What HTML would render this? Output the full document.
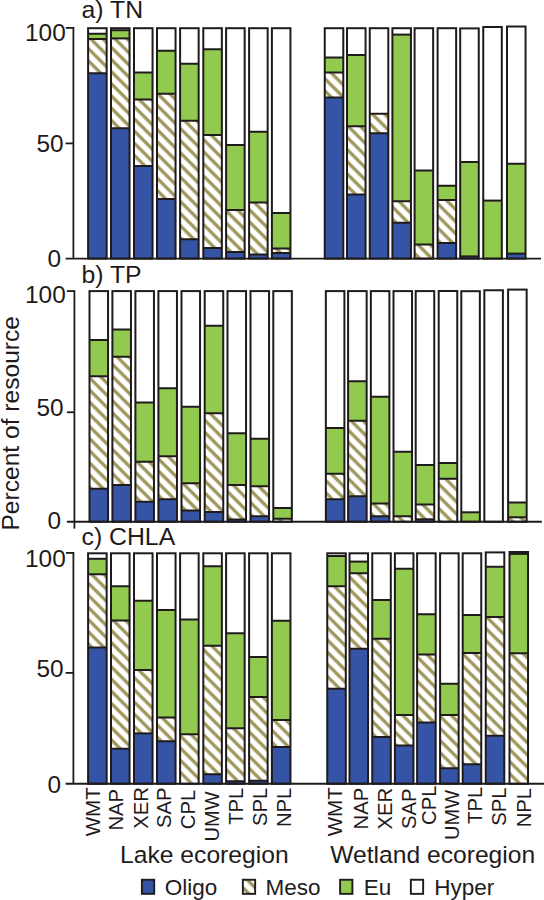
<!DOCTYPE html>
<html lang="en">
<head>
<meta charset="utf-8">
<title>Percent of resource by trophic state</title>
<style>
html,body{margin:0;padding:0;background:#fff;}
body{width:544px;height:900px;overflow:hidden;}
svg{display:block;}
text{font-family:"Liberation Sans",Arial,Helvetica,sans-serif;fill:#1f1b1c;}
</style>
</head>
<body>
<svg width="544" height="900" viewBox="0 0 544 900">
<defs>
<pattern id="h" patternUnits="userSpaceOnUse" width="8.59" height="8.59" patternTransform="rotate(-45)">
<rect x="0" y="0" width="8.59" height="8.59" fill="#ffffff"/>
<rect x="0.625" y="0" width="3.35" height="8.59" fill="#9f975d"/>
</pattern>
<pattern id="h2" patternUnits="userSpaceOnUse" width="8.59" height="8.59" patternTransform="rotate(-45)">
<rect x="0" y="0" width="8.59" height="8.59" fill="#ffffff"/>
<rect x="-2.295" y="0" width="3.35" height="8.59" fill="#9f975d"/>
<rect x="6.295" y="0" width="3.35" height="8.59" fill="#9f975d"/>
</pattern>
</defs>
<rect x="0" y="0" width="544" height="900" fill="#ffffff"/>
<g id="bars">
<g id="panel-a">
<rect x="88.10" y="33.75" width="18.55" height="5.25" fill="#92c94f"/>
<rect x="88.10" y="39.00" width="18.55" height="34.25" fill="url(#h)"/>
<rect x="88.10" y="73.25" width="18.55" height="185.35" fill="#3554a5"/>
<rect x="88.10" y="28.20" width="18.55" height="230.40" fill="none" stroke="#1f1b1c" stroke-width="2.0"/>
<line x1="88.10" x2="106.65" y1="33.75" y2="33.75" stroke="#1f1b1c" stroke-width="2.0"/>
<line x1="88.10" x2="106.65" y1="39.00" y2="39.00" stroke="#1f1b1c" stroke-width="2.0"/>
<line x1="88.10" x2="106.65" y1="73.25" y2="73.25" stroke="#1f1b1c" stroke-width="2.0"/>
<rect x="111.00" y="30.20" width="18.55" height="8.20" fill="#92c94f"/>
<rect x="111.00" y="38.40" width="18.55" height="89.85" fill="url(#h)"/>
<rect x="111.00" y="128.25" width="18.55" height="130.35" fill="#3554a5"/>
<rect x="111.00" y="28.20" width="18.55" height="230.40" fill="none" stroke="#1f1b1c" stroke-width="2.0"/>
<line x1="111.00" x2="129.55" y1="30.20" y2="30.20" stroke="#1f1b1c" stroke-width="2.0"/>
<line x1="111.00" x2="129.55" y1="38.40" y2="38.40" stroke="#1f1b1c" stroke-width="2.0"/>
<line x1="111.00" x2="129.55" y1="128.25" y2="128.25" stroke="#1f1b1c" stroke-width="2.0"/>
<rect x="134.00" y="72.50" width="18.55" height="27.00" fill="#92c94f"/>
<rect x="134.00" y="99.50" width="18.55" height="66.50" fill="url(#h)"/>
<rect x="134.00" y="166.00" width="18.55" height="92.60" fill="#3554a5"/>
<rect x="134.00" y="28.20" width="18.55" height="230.40" fill="none" stroke="#1f1b1c" stroke-width="2.0"/>
<line x1="134.00" x2="152.55" y1="72.50" y2="72.50" stroke="#1f1b1c" stroke-width="2.0"/>
<line x1="134.00" x2="152.55" y1="99.50" y2="99.50" stroke="#1f1b1c" stroke-width="2.0"/>
<line x1="134.00" x2="152.55" y1="166.00" y2="166.00" stroke="#1f1b1c" stroke-width="2.0"/>
<rect x="157.00" y="50.75" width="18.55" height="43.00" fill="#92c94f"/>
<rect x="157.00" y="93.75" width="18.55" height="105.25" fill="url(#h)"/>
<rect x="157.00" y="199.00" width="18.55" height="59.60" fill="#3554a5"/>
<rect x="157.00" y="28.20" width="18.55" height="230.40" fill="none" stroke="#1f1b1c" stroke-width="2.0"/>
<line x1="157.00" x2="175.55" y1="50.75" y2="50.75" stroke="#1f1b1c" stroke-width="2.0"/>
<line x1="157.00" x2="175.55" y1="93.75" y2="93.75" stroke="#1f1b1c" stroke-width="2.0"/>
<line x1="157.00" x2="175.55" y1="199.00" y2="199.00" stroke="#1f1b1c" stroke-width="2.0"/>
<rect x="180.10" y="63.75" width="18.55" height="57.00" fill="#92c94f"/>
<rect x="180.10" y="120.75" width="18.55" height="118.50" fill="url(#h)"/>
<rect x="180.10" y="239.25" width="18.55" height="19.35" fill="#3554a5"/>
<rect x="180.10" y="28.20" width="18.55" height="230.40" fill="none" stroke="#1f1b1c" stroke-width="2.0"/>
<line x1="180.10" x2="198.65" y1="63.75" y2="63.75" stroke="#1f1b1c" stroke-width="2.0"/>
<line x1="180.10" x2="198.65" y1="120.75" y2="120.75" stroke="#1f1b1c" stroke-width="2.0"/>
<line x1="180.10" x2="198.65" y1="239.25" y2="239.25" stroke="#1f1b1c" stroke-width="2.0"/>
<rect x="203.30" y="49.25" width="18.55" height="85.75" fill="#92c94f"/>
<rect x="203.30" y="135.00" width="18.55" height="113.00" fill="url(#h)"/>
<rect x="203.30" y="248.00" width="18.55" height="10.60" fill="#3554a5"/>
<rect x="203.30" y="28.20" width="18.55" height="230.40" fill="none" stroke="#1f1b1c" stroke-width="2.0"/>
<line x1="203.30" x2="221.85" y1="49.25" y2="49.25" stroke="#1f1b1c" stroke-width="2.0"/>
<line x1="203.30" x2="221.85" y1="135.00" y2="135.00" stroke="#1f1b1c" stroke-width="2.0"/>
<line x1="203.30" x2="221.85" y1="248.00" y2="248.00" stroke="#1f1b1c" stroke-width="2.0"/>
<rect x="226.10" y="145.00" width="18.55" height="65.00" fill="#92c94f"/>
<rect x="226.10" y="210.00" width="18.55" height="42.00" fill="url(#h)"/>
<rect x="226.10" y="252.00" width="18.55" height="6.60" fill="#3554a5"/>
<rect x="226.10" y="28.20" width="18.55" height="230.40" fill="none" stroke="#1f1b1c" stroke-width="2.0"/>
<line x1="226.10" x2="244.65" y1="145.00" y2="145.00" stroke="#1f1b1c" stroke-width="2.0"/>
<line x1="226.10" x2="244.65" y1="210.00" y2="210.00" stroke="#1f1b1c" stroke-width="2.0"/>
<line x1="226.10" x2="244.65" y1="252.00" y2="252.00" stroke="#1f1b1c" stroke-width="2.0"/>
<rect x="249.10" y="131.75" width="18.55" height="70.75" fill="#92c94f"/>
<rect x="249.10" y="202.50" width="18.55" height="52.00" fill="url(#h)"/>
<rect x="249.10" y="254.50" width="18.55" height="4.10" fill="#3554a5"/>
<rect x="249.10" y="28.20" width="18.55" height="230.40" fill="none" stroke="#1f1b1c" stroke-width="2.0"/>
<line x1="249.10" x2="267.65" y1="131.75" y2="131.75" stroke="#1f1b1c" stroke-width="2.0"/>
<line x1="249.10" x2="267.65" y1="202.50" y2="202.50" stroke="#1f1b1c" stroke-width="2.0"/>
<line x1="249.10" x2="267.65" y1="254.50" y2="254.50" stroke="#1f1b1c" stroke-width="2.0"/>
<rect x="271.90" y="213.00" width="18.55" height="35.50" fill="#92c94f"/>
<rect x="271.90" y="248.50" width="18.55" height="4.50" fill="url(#h)"/>
<rect x="271.90" y="253.00" width="18.55" height="5.60" fill="#3554a5"/>
<rect x="271.90" y="28.20" width="18.55" height="230.40" fill="none" stroke="#1f1b1c" stroke-width="2.0"/>
<line x1="271.90" x2="290.45" y1="213.00" y2="213.00" stroke="#1f1b1c" stroke-width="2.0"/>
<line x1="271.90" x2="290.45" y1="248.50" y2="248.50" stroke="#1f1b1c" stroke-width="2.0"/>
<line x1="271.90" x2="290.45" y1="253.00" y2="253.00" stroke="#1f1b1c" stroke-width="2.0"/>
<rect x="324.75" y="57.50" width="18.55" height="15.00" fill="#92c94f"/>
<rect x="324.75" y="72.50" width="18.55" height="25.00" fill="url(#h)"/>
<rect x="324.75" y="97.50" width="18.55" height="161.10" fill="#3554a5"/>
<rect x="324.75" y="28.20" width="18.55" height="230.40" fill="none" stroke="#1f1b1c" stroke-width="2.0"/>
<line x1="324.75" x2="343.30" y1="57.50" y2="57.50" stroke="#1f1b1c" stroke-width="2.0"/>
<line x1="324.75" x2="343.30" y1="72.50" y2="72.50" stroke="#1f1b1c" stroke-width="2.0"/>
<line x1="324.75" x2="343.30" y1="97.50" y2="97.50" stroke="#1f1b1c" stroke-width="2.0"/>
<rect x="347.00" y="55.00" width="18.55" height="71.25" fill="#92c94f"/>
<rect x="347.00" y="126.25" width="18.55" height="68.25" fill="url(#h)"/>
<rect x="347.00" y="194.50" width="18.55" height="64.10" fill="#3554a5"/>
<rect x="347.00" y="28.20" width="18.55" height="230.40" fill="none" stroke="#1f1b1c" stroke-width="2.0"/>
<line x1="347.00" x2="365.55" y1="55.00" y2="55.00" stroke="#1f1b1c" stroke-width="2.0"/>
<line x1="347.00" x2="365.55" y1="126.25" y2="126.25" stroke="#1f1b1c" stroke-width="2.0"/>
<line x1="347.00" x2="365.55" y1="194.50" y2="194.50" stroke="#1f1b1c" stroke-width="2.0"/>
<rect x="369.75" y="113.75" width="18.55" height="19.50" fill="url(#h)"/>
<rect x="369.75" y="133.25" width="18.55" height="125.35" fill="#3554a5"/>
<rect x="369.75" y="28.20" width="18.55" height="230.40" fill="none" stroke="#1f1b1c" stroke-width="2.0"/>
<line x1="369.75" x2="388.30" y1="113.75" y2="113.75" stroke="#1f1b1c" stroke-width="2.0"/>
<line x1="369.75" x2="388.30" y1="133.25" y2="133.25" stroke="#1f1b1c" stroke-width="2.0"/>
<rect x="392.40" y="34.60" width="18.55" height="166.65" fill="#92c94f"/>
<rect x="392.40" y="201.25" width="18.55" height="21.50" fill="url(#h)"/>
<rect x="392.40" y="222.75" width="18.55" height="35.85" fill="#3554a5"/>
<rect x="392.40" y="28.20" width="18.55" height="230.40" fill="none" stroke="#1f1b1c" stroke-width="2.0"/>
<line x1="392.40" x2="410.95" y1="34.60" y2="34.60" stroke="#1f1b1c" stroke-width="2.0"/>
<line x1="392.40" x2="410.95" y1="201.25" y2="201.25" stroke="#1f1b1c" stroke-width="2.0"/>
<line x1="392.40" x2="410.95" y1="222.75" y2="222.75" stroke="#1f1b1c" stroke-width="2.0"/>
<rect x="414.60" y="170.50" width="18.55" height="74.00" fill="#92c94f"/>
<rect x="414.60" y="244.50" width="18.55" height="14.10" fill="url(#h)"/>
<rect x="414.60" y="28.20" width="18.55" height="230.40" fill="none" stroke="#1f1b1c" stroke-width="2.0"/>
<line x1="414.60" x2="433.15" y1="170.50" y2="170.50" stroke="#1f1b1c" stroke-width="2.0"/>
<line x1="414.60" x2="433.15" y1="244.50" y2="244.50" stroke="#1f1b1c" stroke-width="2.0"/>
<rect x="437.60" y="185.75" width="18.55" height="14.25" fill="#92c94f"/>
<rect x="437.60" y="200.00" width="18.55" height="43.00" fill="url(#h)"/>
<rect x="437.60" y="243.00" width="18.55" height="15.60" fill="#3554a5"/>
<rect x="437.60" y="28.20" width="18.55" height="230.40" fill="none" stroke="#1f1b1c" stroke-width="2.0"/>
<line x1="437.60" x2="456.15" y1="185.75" y2="185.75" stroke="#1f1b1c" stroke-width="2.0"/>
<line x1="437.60" x2="456.15" y1="200.00" y2="200.00" stroke="#1f1b1c" stroke-width="2.0"/>
<line x1="437.60" x2="456.15" y1="243.00" y2="243.00" stroke="#1f1b1c" stroke-width="2.0"/>
<rect x="460.20" y="162.00" width="18.55" height="94.40" fill="#92c94f"/>
<rect x="460.20" y="256.40" width="18.55" height="2.20" fill="#3554a5"/>
<rect x="460.20" y="28.40" width="18.55" height="230.20" fill="none" stroke="#1f1b1c" stroke-width="2.0"/>
<line x1="460.20" x2="478.75" y1="162.00" y2="162.00" stroke="#1f1b1c" stroke-width="2.0"/>
<line x1="460.20" x2="478.75" y1="256.40" y2="256.40" stroke="#1f1b1c" stroke-width="2.0"/>
<rect x="483.25" y="200.60" width="18.55" height="58.00" fill="#92c94f"/>
<rect x="483.25" y="27.00" width="18.55" height="231.60" fill="none" stroke="#1f1b1c" stroke-width="2.0"/>
<line x1="483.25" x2="501.80" y1="200.60" y2="200.60" stroke="#1f1b1c" stroke-width="2.0"/>
<rect x="507.00" y="163.75" width="18.55" height="89.85" fill="#92c94f"/>
<rect x="507.00" y="253.60" width="18.55" height="5.00" fill="#3554a5"/>
<rect x="507.00" y="26.50" width="18.55" height="232.10" fill="none" stroke="#1f1b1c" stroke-width="2.0"/>
<line x1="507.00" x2="525.55" y1="163.75" y2="163.75" stroke="#1f1b1c" stroke-width="2.0"/>
<line x1="507.00" x2="525.55" y1="253.60" y2="253.60" stroke="#1f1b1c" stroke-width="2.0"/>
</g>
<g id="panel-b">
<rect x="89.50" y="340.00" width="18.55" height="36.25" fill="#92c94f"/>
<rect x="89.50" y="376.25" width="18.55" height="112.50" fill="url(#h)"/>
<rect x="89.50" y="488.75" width="18.55" height="33.00" fill="#3554a5"/>
<rect x="89.50" y="291.10" width="18.55" height="230.65" fill="none" stroke="#1f1b1c" stroke-width="2.0"/>
<line x1="89.50" x2="108.05" y1="340.00" y2="340.00" stroke="#1f1b1c" stroke-width="2.0"/>
<line x1="89.50" x2="108.05" y1="376.25" y2="376.25" stroke="#1f1b1c" stroke-width="2.0"/>
<line x1="89.50" x2="108.05" y1="488.75" y2="488.75" stroke="#1f1b1c" stroke-width="2.0"/>
<rect x="112.40" y="329.50" width="18.55" height="27.25" fill="#92c94f"/>
<rect x="112.40" y="356.75" width="18.55" height="128.25" fill="url(#h)"/>
<rect x="112.40" y="485.00" width="18.55" height="36.75" fill="#3554a5"/>
<rect x="112.40" y="291.10" width="18.55" height="230.65" fill="none" stroke="#1f1b1c" stroke-width="2.0"/>
<line x1="112.40" x2="130.95" y1="329.50" y2="329.50" stroke="#1f1b1c" stroke-width="2.0"/>
<line x1="112.40" x2="130.95" y1="356.75" y2="356.75" stroke="#1f1b1c" stroke-width="2.0"/>
<line x1="112.40" x2="130.95" y1="485.00" y2="485.00" stroke="#1f1b1c" stroke-width="2.0"/>
<rect x="135.40" y="402.50" width="18.55" height="59.25" fill="#92c94f"/>
<rect x="135.40" y="461.75" width="18.55" height="40.00" fill="url(#h)"/>
<rect x="135.40" y="501.75" width="18.55" height="20.00" fill="#3554a5"/>
<rect x="135.40" y="291.10" width="18.55" height="230.65" fill="none" stroke="#1f1b1c" stroke-width="2.0"/>
<line x1="135.40" x2="153.95" y1="402.50" y2="402.50" stroke="#1f1b1c" stroke-width="2.0"/>
<line x1="135.40" x2="153.95" y1="461.75" y2="461.75" stroke="#1f1b1c" stroke-width="2.0"/>
<line x1="135.40" x2="153.95" y1="501.75" y2="501.75" stroke="#1f1b1c" stroke-width="2.0"/>
<rect x="158.40" y="388.25" width="18.55" height="68.00" fill="#92c94f"/>
<rect x="158.40" y="456.25" width="18.55" height="43.00" fill="url(#h)"/>
<rect x="158.40" y="499.25" width="18.55" height="22.50" fill="#3554a5"/>
<rect x="158.40" y="291.10" width="18.55" height="230.65" fill="none" stroke="#1f1b1c" stroke-width="2.0"/>
<line x1="158.40" x2="176.95" y1="388.25" y2="388.25" stroke="#1f1b1c" stroke-width="2.0"/>
<line x1="158.40" x2="176.95" y1="456.25" y2="456.25" stroke="#1f1b1c" stroke-width="2.0"/>
<line x1="158.40" x2="176.95" y1="499.25" y2="499.25" stroke="#1f1b1c" stroke-width="2.0"/>
<rect x="181.50" y="406.75" width="18.55" height="76.50" fill="#92c94f"/>
<rect x="181.50" y="483.25" width="18.55" height="27.25" fill="url(#h)"/>
<rect x="181.50" y="510.50" width="18.55" height="11.25" fill="#3554a5"/>
<rect x="181.50" y="291.10" width="18.55" height="230.65" fill="none" stroke="#1f1b1c" stroke-width="2.0"/>
<line x1="181.50" x2="200.05" y1="406.75" y2="406.75" stroke="#1f1b1c" stroke-width="2.0"/>
<line x1="181.50" x2="200.05" y1="483.25" y2="483.25" stroke="#1f1b1c" stroke-width="2.0"/>
<line x1="181.50" x2="200.05" y1="510.50" y2="510.50" stroke="#1f1b1c" stroke-width="2.0"/>
<rect x="204.70" y="325.75" width="18.55" height="87.50" fill="#92c94f"/>
<rect x="204.70" y="413.25" width="18.55" height="98.75" fill="url(#h)"/>
<rect x="204.70" y="512.00" width="18.55" height="9.75" fill="#3554a5"/>
<rect x="204.70" y="291.10" width="18.55" height="230.65" fill="none" stroke="#1f1b1c" stroke-width="2.0"/>
<line x1="204.70" x2="223.25" y1="325.75" y2="325.75" stroke="#1f1b1c" stroke-width="2.0"/>
<line x1="204.70" x2="223.25" y1="413.25" y2="413.25" stroke="#1f1b1c" stroke-width="2.0"/>
<line x1="204.70" x2="223.25" y1="512.00" y2="512.00" stroke="#1f1b1c" stroke-width="2.0"/>
<rect x="227.50" y="433.25" width="18.55" height="51.75" fill="#92c94f"/>
<rect x="227.50" y="485.00" width="18.55" height="34.50" fill="url(#h)"/>
<rect x="227.50" y="519.50" width="18.55" height="2.25" fill="#3554a5"/>
<rect x="227.50" y="291.10" width="18.55" height="230.65" fill="none" stroke="#1f1b1c" stroke-width="2.0"/>
<line x1="227.50" x2="246.05" y1="433.25" y2="433.25" stroke="#1f1b1c" stroke-width="2.0"/>
<line x1="227.50" x2="246.05" y1="485.00" y2="485.00" stroke="#1f1b1c" stroke-width="2.0"/>
<line x1="227.50" x2="246.05" y1="519.50" y2="519.50" stroke="#1f1b1c" stroke-width="2.0"/>
<rect x="250.50" y="438.75" width="18.55" height="47.50" fill="#92c94f"/>
<rect x="250.50" y="486.25" width="18.55" height="30.00" fill="url(#h)"/>
<rect x="250.50" y="516.25" width="18.55" height="5.50" fill="#3554a5"/>
<rect x="250.50" y="291.10" width="18.55" height="230.65" fill="none" stroke="#1f1b1c" stroke-width="2.0"/>
<line x1="250.50" x2="269.05" y1="438.75" y2="438.75" stroke="#1f1b1c" stroke-width="2.0"/>
<line x1="250.50" x2="269.05" y1="486.25" y2="486.25" stroke="#1f1b1c" stroke-width="2.0"/>
<line x1="250.50" x2="269.05" y1="516.25" y2="516.25" stroke="#1f1b1c" stroke-width="2.0"/>
<rect x="273.30" y="508.00" width="18.55" height="10.75" fill="#92c94f"/>
<rect x="273.30" y="518.75" width="18.55" height="3.00" fill="url(#h)"/>
<rect x="273.30" y="291.10" width="18.55" height="230.65" fill="none" stroke="#1f1b1c" stroke-width="2.0"/>
<line x1="273.30" x2="291.85" y1="508.00" y2="508.00" stroke="#1f1b1c" stroke-width="2.0"/>
<line x1="273.30" x2="291.85" y1="518.75" y2="518.75" stroke="#1f1b1c" stroke-width="2.0"/>
<rect x="325.85" y="428.00" width="18.55" height="45.75" fill="#92c94f"/>
<rect x="325.85" y="473.75" width="18.55" height="25.50" fill="url(#h)"/>
<rect x="325.85" y="499.25" width="18.55" height="22.50" fill="#3554a5"/>
<rect x="325.85" y="291.10" width="18.55" height="230.65" fill="none" stroke="#1f1b1c" stroke-width="2.0"/>
<line x1="325.85" x2="344.40" y1="428.00" y2="428.00" stroke="#1f1b1c" stroke-width="2.0"/>
<line x1="325.85" x2="344.40" y1="473.75" y2="473.75" stroke="#1f1b1c" stroke-width="2.0"/>
<line x1="325.85" x2="344.40" y1="499.25" y2="499.25" stroke="#1f1b1c" stroke-width="2.0"/>
<rect x="348.10" y="381.25" width="18.55" height="39.50" fill="#92c94f"/>
<rect x="348.10" y="420.75" width="18.55" height="75.50" fill="url(#h)"/>
<rect x="348.10" y="496.25" width="18.55" height="25.50" fill="#3554a5"/>
<rect x="348.10" y="291.10" width="18.55" height="230.65" fill="none" stroke="#1f1b1c" stroke-width="2.0"/>
<line x1="348.10" x2="366.65" y1="381.25" y2="381.25" stroke="#1f1b1c" stroke-width="2.0"/>
<line x1="348.10" x2="366.65" y1="420.75" y2="420.75" stroke="#1f1b1c" stroke-width="2.0"/>
<line x1="348.10" x2="366.65" y1="496.25" y2="496.25" stroke="#1f1b1c" stroke-width="2.0"/>
<rect x="370.85" y="396.75" width="18.55" height="106.75" fill="#92c94f"/>
<rect x="370.85" y="503.50" width="18.55" height="12.75" fill="url(#h)"/>
<rect x="370.85" y="516.25" width="18.55" height="5.50" fill="#3554a5"/>
<rect x="370.85" y="291.10" width="18.55" height="230.65" fill="none" stroke="#1f1b1c" stroke-width="2.0"/>
<line x1="370.85" x2="389.40" y1="396.75" y2="396.75" stroke="#1f1b1c" stroke-width="2.0"/>
<line x1="370.85" x2="389.40" y1="503.50" y2="503.50" stroke="#1f1b1c" stroke-width="2.0"/>
<line x1="370.85" x2="389.40" y1="516.25" y2="516.25" stroke="#1f1b1c" stroke-width="2.0"/>
<rect x="393.50" y="451.75" width="18.55" height="64.50" fill="#92c94f"/>
<rect x="393.50" y="516.25" width="18.55" height="5.50" fill="url(#h)"/>
<rect x="393.50" y="291.10" width="18.55" height="230.65" fill="none" stroke="#1f1b1c" stroke-width="2.0"/>
<line x1="393.50" x2="412.05" y1="451.75" y2="451.75" stroke="#1f1b1c" stroke-width="2.0"/>
<line x1="393.50" x2="412.05" y1="516.25" y2="516.25" stroke="#1f1b1c" stroke-width="2.0"/>
<rect x="415.70" y="465.00" width="18.55" height="39.50" fill="#92c94f"/>
<rect x="415.70" y="504.50" width="18.55" height="14.80" fill="url(#h)"/>
<rect x="415.70" y="519.30" width="18.55" height="2.45" fill="#3554a5"/>
<rect x="415.70" y="291.10" width="18.55" height="230.65" fill="none" stroke="#1f1b1c" stroke-width="2.0"/>
<line x1="415.70" x2="434.25" y1="465.00" y2="465.00" stroke="#1f1b1c" stroke-width="2.0"/>
<line x1="415.70" x2="434.25" y1="504.50" y2="504.50" stroke="#1f1b1c" stroke-width="2.0"/>
<line x1="415.70" x2="434.25" y1="519.30" y2="519.30" stroke="#1f1b1c" stroke-width="2.0"/>
<rect x="438.70" y="463.00" width="18.55" height="15.75" fill="#92c94f"/>
<rect x="438.70" y="478.75" width="18.55" height="43.00" fill="url(#h)"/>
<rect x="438.70" y="291.00" width="18.55" height="230.75" fill="none" stroke="#1f1b1c" stroke-width="2.0"/>
<line x1="438.70" x2="457.25" y1="463.00" y2="463.00" stroke="#1f1b1c" stroke-width="2.0"/>
<line x1="438.70" x2="457.25" y1="478.75" y2="478.75" stroke="#1f1b1c" stroke-width="2.0"/>
<rect x="461.30" y="512.30" width="18.55" height="9.45" fill="#92c94f"/>
<rect x="461.30" y="291.20" width="18.55" height="230.55" fill="none" stroke="#1f1b1c" stroke-width="2.0"/>
<line x1="461.30" x2="479.85" y1="512.30" y2="512.30" stroke="#1f1b1c" stroke-width="2.0"/>
<rect x="484.35" y="290.25" width="18.55" height="231.50" fill="none" stroke="#1f1b1c" stroke-width="2.0"/>
<rect x="508.10" y="502.50" width="18.55" height="14.80" fill="#92c94f"/>
<rect x="508.10" y="517.30" width="18.55" height="4.45" fill="url(#h)"/>
<rect x="508.10" y="289.60" width="18.55" height="232.15" fill="none" stroke="#1f1b1c" stroke-width="2.0"/>
<line x1="508.10" x2="526.65" y1="502.50" y2="502.50" stroke="#1f1b1c" stroke-width="2.0"/>
<line x1="508.10" x2="526.65" y1="517.30" y2="517.30" stroke="#1f1b1c" stroke-width="2.0"/>
</g>
<g id="panel-c">
<rect x="88.10" y="558.80" width="18.55" height="15.45" fill="#92c94f"/>
<rect x="88.10" y="574.25" width="18.55" height="73.25" fill="url(#h)"/>
<rect x="88.10" y="647.50" width="18.55" height="136.25" fill="#3554a5"/>
<rect x="88.10" y="553.30" width="18.55" height="230.45" fill="none" stroke="#1f1b1c" stroke-width="2.0"/>
<line x1="88.10" x2="106.65" y1="558.80" y2="558.80" stroke="#1f1b1c" stroke-width="2.0"/>
<line x1="88.10" x2="106.65" y1="574.25" y2="574.25" stroke="#1f1b1c" stroke-width="2.0"/>
<line x1="88.10" x2="106.65" y1="647.50" y2="647.50" stroke="#1f1b1c" stroke-width="2.0"/>
<rect x="111.00" y="586.25" width="18.55" height="34.25" fill="#92c94f"/>
<rect x="111.00" y="620.50" width="18.55" height="128.25" fill="url(#h)"/>
<rect x="111.00" y="748.75" width="18.55" height="35.00" fill="#3554a5"/>
<rect x="111.00" y="553.30" width="18.55" height="230.45" fill="none" stroke="#1f1b1c" stroke-width="2.0"/>
<line x1="111.00" x2="129.55" y1="586.25" y2="586.25" stroke="#1f1b1c" stroke-width="2.0"/>
<line x1="111.00" x2="129.55" y1="620.50" y2="620.50" stroke="#1f1b1c" stroke-width="2.0"/>
<line x1="111.00" x2="129.55" y1="748.75" y2="748.75" stroke="#1f1b1c" stroke-width="2.0"/>
<rect x="134.00" y="600.75" width="18.55" height="69.25" fill="#92c94f"/>
<rect x="134.00" y="670.00" width="18.55" height="63.40" fill="url(#h)"/>
<rect x="134.00" y="733.40" width="18.55" height="50.35" fill="#3554a5"/>
<rect x="134.00" y="553.30" width="18.55" height="230.45" fill="none" stroke="#1f1b1c" stroke-width="2.0"/>
<line x1="134.00" x2="152.55" y1="600.75" y2="600.75" stroke="#1f1b1c" stroke-width="2.0"/>
<line x1="134.00" x2="152.55" y1="670.00" y2="670.00" stroke="#1f1b1c" stroke-width="2.0"/>
<line x1="134.00" x2="152.55" y1="733.40" y2="733.40" stroke="#1f1b1c" stroke-width="2.0"/>
<rect x="157.00" y="610.00" width="18.55" height="107.50" fill="#92c94f"/>
<rect x="157.00" y="717.50" width="18.55" height="23.75" fill="url(#h)"/>
<rect x="157.00" y="741.25" width="18.55" height="42.50" fill="#3554a5"/>
<rect x="157.00" y="553.30" width="18.55" height="230.45" fill="none" stroke="#1f1b1c" stroke-width="2.0"/>
<line x1="157.00" x2="175.55" y1="610.00" y2="610.00" stroke="#1f1b1c" stroke-width="2.0"/>
<line x1="157.00" x2="175.55" y1="717.50" y2="717.50" stroke="#1f1b1c" stroke-width="2.0"/>
<line x1="157.00" x2="175.55" y1="741.25" y2="741.25" stroke="#1f1b1c" stroke-width="2.0"/>
<rect x="180.10" y="619.50" width="18.55" height="114.75" fill="#92c94f"/>
<rect x="180.10" y="734.25" width="18.55" height="49.50" fill="url(#h)"/>
<rect x="180.10" y="553.30" width="18.55" height="230.45" fill="none" stroke="#1f1b1c" stroke-width="2.0"/>
<line x1="180.10" x2="198.65" y1="619.50" y2="619.50" stroke="#1f1b1c" stroke-width="2.0"/>
<line x1="180.10" x2="198.65" y1="734.25" y2="734.25" stroke="#1f1b1c" stroke-width="2.0"/>
<rect x="203.30" y="566.25" width="18.55" height="79.50" fill="#92c94f"/>
<rect x="203.30" y="645.75" width="18.55" height="128.50" fill="url(#h)"/>
<rect x="203.30" y="774.25" width="18.55" height="9.50" fill="#3554a5"/>
<rect x="203.30" y="553.30" width="18.55" height="230.45" fill="none" stroke="#1f1b1c" stroke-width="2.0"/>
<line x1="203.30" x2="221.85" y1="566.25" y2="566.25" stroke="#1f1b1c" stroke-width="2.0"/>
<line x1="203.30" x2="221.85" y1="645.75" y2="645.75" stroke="#1f1b1c" stroke-width="2.0"/>
<line x1="203.30" x2="221.85" y1="774.25" y2="774.25" stroke="#1f1b1c" stroke-width="2.0"/>
<rect x="226.10" y="633.25" width="18.55" height="95.00" fill="#92c94f"/>
<rect x="226.10" y="728.25" width="18.55" height="53.00" fill="url(#h)"/>
<rect x="226.10" y="781.25" width="18.55" height="2.50" fill="#3554a5"/>
<rect x="226.10" y="553.30" width="18.55" height="230.45" fill="none" stroke="#1f1b1c" stroke-width="2.0"/>
<line x1="226.10" x2="244.65" y1="633.25" y2="633.25" stroke="#1f1b1c" stroke-width="2.0"/>
<line x1="226.10" x2="244.65" y1="728.25" y2="728.25" stroke="#1f1b1c" stroke-width="2.0"/>
<line x1="226.10" x2="244.65" y1="781.25" y2="781.25" stroke="#1f1b1c" stroke-width="2.0"/>
<rect x="249.10" y="657.00" width="18.55" height="40.00" fill="#92c94f"/>
<rect x="249.10" y="697.00" width="18.55" height="83.75" fill="url(#h)"/>
<rect x="249.10" y="780.75" width="18.55" height="3.00" fill="#3554a5"/>
<rect x="249.10" y="553.30" width="18.55" height="230.45" fill="none" stroke="#1f1b1c" stroke-width="2.0"/>
<line x1="249.10" x2="267.65" y1="657.00" y2="657.00" stroke="#1f1b1c" stroke-width="2.0"/>
<line x1="249.10" x2="267.65" y1="697.00" y2="697.00" stroke="#1f1b1c" stroke-width="2.0"/>
<line x1="249.10" x2="267.65" y1="780.75" y2="780.75" stroke="#1f1b1c" stroke-width="2.0"/>
<rect x="271.90" y="620.75" width="18.55" height="99.25" fill="#92c94f"/>
<rect x="271.90" y="720.00" width="18.55" height="27.00" fill="url(#h)"/>
<rect x="271.90" y="747.00" width="18.55" height="36.75" fill="#3554a5"/>
<rect x="271.90" y="553.30" width="18.55" height="230.45" fill="none" stroke="#1f1b1c" stroke-width="2.0"/>
<line x1="271.90" x2="290.45" y1="620.75" y2="620.75" stroke="#1f1b1c" stroke-width="2.0"/>
<line x1="271.90" x2="290.45" y1="720.00" y2="720.00" stroke="#1f1b1c" stroke-width="2.0"/>
<line x1="271.90" x2="290.45" y1="747.00" y2="747.00" stroke="#1f1b1c" stroke-width="2.0"/>
<rect x="327.25" y="556.00" width="18.55" height="30.25" fill="#92c94f"/>
<rect x="327.25" y="586.25" width="18.55" height="102.50" fill="url(#h)"/>
<rect x="327.25" y="688.75" width="18.55" height="95.00" fill="#3554a5"/>
<rect x="327.25" y="553.30" width="18.55" height="230.45" fill="none" stroke="#1f1b1c" stroke-width="2.0"/>
<line x1="327.25" x2="345.80" y1="556.00" y2="556.00" stroke="#1f1b1c" stroke-width="2.0"/>
<line x1="327.25" x2="345.80" y1="586.25" y2="586.25" stroke="#1f1b1c" stroke-width="2.0"/>
<line x1="327.25" x2="345.80" y1="688.75" y2="688.75" stroke="#1f1b1c" stroke-width="2.0"/>
<rect x="349.50" y="561.60" width="18.55" height="11.65" fill="#92c94f"/>
<rect x="349.50" y="573.25" width="18.55" height="75.50" fill="url(#h)"/>
<rect x="349.50" y="648.75" width="18.55" height="135.00" fill="#3554a5"/>
<rect x="349.50" y="553.30" width="18.55" height="230.45" fill="none" stroke="#1f1b1c" stroke-width="2.0"/>
<line x1="349.50" x2="368.05" y1="561.60" y2="561.60" stroke="#1f1b1c" stroke-width="2.0"/>
<line x1="349.50" x2="368.05" y1="573.25" y2="573.25" stroke="#1f1b1c" stroke-width="2.0"/>
<line x1="349.50" x2="368.05" y1="648.75" y2="648.75" stroke="#1f1b1c" stroke-width="2.0"/>
<rect x="372.25" y="600.00" width="18.55" height="38.75" fill="#92c94f"/>
<rect x="372.25" y="638.75" width="18.55" height="98.25" fill="url(#h)"/>
<rect x="372.25" y="737.00" width="18.55" height="46.75" fill="#3554a5"/>
<rect x="372.25" y="553.30" width="18.55" height="230.45" fill="none" stroke="#1f1b1c" stroke-width="2.0"/>
<line x1="372.25" x2="390.80" y1="600.00" y2="600.00" stroke="#1f1b1c" stroke-width="2.0"/>
<line x1="372.25" x2="390.80" y1="638.75" y2="638.75" stroke="#1f1b1c" stroke-width="2.0"/>
<line x1="372.25" x2="390.80" y1="737.00" y2="737.00" stroke="#1f1b1c" stroke-width="2.0"/>
<rect x="394.90" y="568.75" width="18.55" height="146.25" fill="#92c94f"/>
<rect x="394.90" y="715.00" width="18.55" height="30.50" fill="url(#h)"/>
<rect x="394.90" y="745.50" width="18.55" height="38.25" fill="#3554a5"/>
<rect x="394.90" y="553.30" width="18.55" height="230.45" fill="none" stroke="#1f1b1c" stroke-width="2.0"/>
<line x1="394.90" x2="413.45" y1="568.75" y2="568.75" stroke="#1f1b1c" stroke-width="2.0"/>
<line x1="394.90" x2="413.45" y1="715.00" y2="715.00" stroke="#1f1b1c" stroke-width="2.0"/>
<line x1="394.90" x2="413.45" y1="745.50" y2="745.50" stroke="#1f1b1c" stroke-width="2.0"/>
<rect x="417.10" y="614.25" width="18.55" height="40.25" fill="#92c94f"/>
<rect x="417.10" y="654.50" width="18.55" height="68.00" fill="url(#h)"/>
<rect x="417.10" y="722.50" width="18.55" height="61.25" fill="#3554a5"/>
<rect x="417.10" y="553.30" width="18.55" height="230.45" fill="none" stroke="#1f1b1c" stroke-width="2.0"/>
<line x1="417.10" x2="435.65" y1="614.25" y2="614.25" stroke="#1f1b1c" stroke-width="2.0"/>
<line x1="417.10" x2="435.65" y1="654.50" y2="654.50" stroke="#1f1b1c" stroke-width="2.0"/>
<line x1="417.10" x2="435.65" y1="722.50" y2="722.50" stroke="#1f1b1c" stroke-width="2.0"/>
<rect x="440.10" y="683.75" width="18.55" height="31.25" fill="#92c94f"/>
<rect x="440.10" y="715.00" width="18.55" height="53.25" fill="url(#h)"/>
<rect x="440.10" y="768.25" width="18.55" height="15.50" fill="#3554a5"/>
<rect x="440.10" y="553.30" width="18.55" height="230.45" fill="none" stroke="#1f1b1c" stroke-width="2.0"/>
<line x1="440.10" x2="458.65" y1="683.75" y2="683.75" stroke="#1f1b1c" stroke-width="2.0"/>
<line x1="440.10" x2="458.65" y1="715.00" y2="715.00" stroke="#1f1b1c" stroke-width="2.0"/>
<line x1="440.10" x2="458.65" y1="768.25" y2="768.25" stroke="#1f1b1c" stroke-width="2.0"/>
<rect x="462.70" y="615.00" width="18.55" height="38.00" fill="#92c94f"/>
<rect x="462.70" y="653.00" width="18.55" height="111.25" fill="url(#h)"/>
<rect x="462.70" y="764.25" width="18.55" height="19.50" fill="#3554a5"/>
<rect x="462.70" y="553.30" width="18.55" height="230.45" fill="none" stroke="#1f1b1c" stroke-width="2.0"/>
<line x1="462.70" x2="481.25" y1="615.00" y2="615.00" stroke="#1f1b1c" stroke-width="2.0"/>
<line x1="462.70" x2="481.25" y1="653.00" y2="653.00" stroke="#1f1b1c" stroke-width="2.0"/>
<line x1="462.70" x2="481.25" y1="764.25" y2="764.25" stroke="#1f1b1c" stroke-width="2.0"/>
<rect x="485.75" y="566.75" width="18.55" height="50.25" fill="#92c94f"/>
<rect x="485.75" y="617.00" width="18.55" height="118.75" fill="url(#h)"/>
<rect x="485.75" y="735.75" width="18.55" height="48.00" fill="#3554a5"/>
<rect x="485.75" y="552.40" width="18.55" height="231.35" fill="none" stroke="#1f1b1c" stroke-width="2.0"/>
<line x1="485.75" x2="504.30" y1="566.75" y2="566.75" stroke="#1f1b1c" stroke-width="2.0"/>
<line x1="485.75" x2="504.30" y1="617.00" y2="617.00" stroke="#1f1b1c" stroke-width="2.0"/>
<line x1="485.75" x2="504.30" y1="735.75" y2="735.75" stroke="#1f1b1c" stroke-width="2.0"/>
<rect x="509.50" y="553.90" width="18.55" height="99.35" fill="#92c94f"/>
<rect x="509.50" y="653.25" width="18.55" height="130.50" fill="url(#h)"/>
<rect x="509.50" y="552.00" width="18.55" height="231.75" fill="none" stroke="#1f1b1c" stroke-width="2.0"/>
<line x1="509.50" x2="528.05" y1="553.90" y2="553.90" stroke="#1f1b1c" stroke-width="2.0"/>
<line x1="509.50" x2="528.05" y1="653.25" y2="653.25" stroke="#1f1b1c" stroke-width="2.0"/>
</g>
</g>
<g id="axes">
<line x1="73.4" y1="27.0" x2="73.4" y2="258.6" stroke="#1f1b1c" stroke-width="1.8"/>
<line x1="65.8" y1="27.9" x2="73.4" y2="27.9" stroke="#1f1b1c" stroke-width="1.8"/>
<line x1="65.6" y1="143.4" x2="73.4" y2="143.4" stroke="#1f1b1c" stroke-width="1.8"/>
<line x1="65.6" y1="258.6" x2="541" y2="258.6" stroke="#1f1b1c" stroke-width="1.8"/>
<line x1="74.4" y1="290.20000000000005" x2="74.4" y2="528.6" stroke="#1f1b1c" stroke-width="1.8"/>
<line x1="66.9" y1="291.1" x2="74.4" y2="291.1" stroke="#1f1b1c" stroke-width="1.8"/>
<line x1="66.9" y1="412.25" x2="74.4" y2="412.25" stroke="#1f1b1c" stroke-width="1.8"/>
<line x1="66.9" y1="521.75" x2="541.8" y2="521.75" stroke="#1f1b1c" stroke-width="1.8"/>
<line x1="73.4" y1="552.0" x2="73.4" y2="783.75" stroke="#1f1b1c" stroke-width="1.8"/>
<line x1="66" y1="552.9" x2="73.4" y2="552.9" stroke="#1f1b1c" stroke-width="1.8"/>
<line x1="65.6" y1="672.9" x2="73.4" y2="672.9" stroke="#1f1b1c" stroke-width="1.8"/>
<line x1="65.6" y1="783.75" x2="544" y2="783.75" stroke="#1f1b1c" stroke-width="1.8"/>
</g>
<g id="labels">
<text x="81.5" y="18.3" font-size="24.8" >a) TN</text>
<text x="81.4" y="282.8" font-size="24.8" >b) TP</text>
<text x="81.5" y="544.8" font-size="24.8" >c) CHLA</text>
<text x="25.0" y="40.699999999999996" font-size="24.4" >100</text>
<text x="36.4" y="151.79999999999998" font-size="24.4" >50</text>
<text x="47.5" y="267.4" font-size="24.4" >0</text>
<text x="25.0" y="302.5" font-size="24.4" >100</text>
<text x="36.4" y="415.5" font-size="24.4" >50</text>
<text x="47.5" y="529.2" font-size="24.4" >0</text>
<text x="25.0" y="567.1999999999999" font-size="24.4" >100</text>
<text x="36.4" y="677.4000000000001" font-size="24.4" >50</text>
<text x="47.5" y="792.7" font-size="24.4" >0</text>
<text transform="translate(18.7,530.6) rotate(-90)" font-size="24.6">Percent of resource</text>
<text transform="translate(99.7,787.2) rotate(-90)" font-size="20.6" text-anchor="end">WMT</text>
<text transform="translate(123.1,788.9) rotate(-90)" font-size="20.3" text-anchor="end">NAP</text>
<text transform="translate(147.5,787.1) rotate(-90)" font-size="20.3" text-anchor="end">XER</text>
<text transform="translate(171.2,787.5) rotate(-90)" font-size="20.3" text-anchor="end">SAP</text>
<text transform="translate(195.4,789.7) rotate(-90)" font-size="20.3" text-anchor="end">CPL</text>
<text transform="translate(219.2,791.4) rotate(-90)" font-size="20.0" text-anchor="end">UMW</text>
<text transform="translate(243.0,787.6) rotate(-90)" font-size="20.3" text-anchor="end">TPL</text>
<text transform="translate(267.0,787.6) rotate(-90)" font-size="20.3" text-anchor="end">SPL</text>
<text transform="translate(291.0,787.6) rotate(-90)" font-size="20.3" text-anchor="end">NPL</text>
<text transform="translate(341.6,787.2) rotate(-90)" font-size="20.6" text-anchor="end">WMT</text>
<text transform="translate(367.5,787.8) rotate(-90)" font-size="20.3" text-anchor="end">NAP</text>
<text transform="translate(392.0,787.8) rotate(-90)" font-size="20.3" text-anchor="end">XER</text>
<text transform="translate(415.9,788.4) rotate(-90)" font-size="20.3" text-anchor="end">SAP</text>
<text transform="translate(435.6,785.5) rotate(-90)" font-size="20.3" text-anchor="end">CPL</text>
<text transform="translate(459.3,789.9) rotate(-90)" font-size="20.0" text-anchor="end">UMW</text>
<text transform="translate(481.8,786.7) rotate(-90)" font-size="20.3" text-anchor="end">TPL</text>
<text transform="translate(506.1,787.4) rotate(-90)" font-size="20.3" text-anchor="end">SPL</text>
<text transform="translate(530.6,787.9) rotate(-90)" font-size="20.3" text-anchor="end">NPL</text>
<text x="120.1" y="862.5" font-size="24.65" >Lake ecoregion</text>
<text x="330.2" y="862.5" font-size="24.65" >Wetland ecoregion</text>
<text x="164.8" y="894.6" font-size="22.5" >Oligo</text>
<text x="265.6" y="894.6" font-size="22.5" >Meso</text>
<text x="363.7" y="894.6" font-size="22.5" >Eu</text>
<text x="434.3" y="894.6" font-size="22.5" >Hyper</text>
</g>
<g id="legend">
<rect x="141.9" y="879.75" width="12.3" height="14.1" fill="#3554a5" stroke="#1f1b1c" stroke-width="1.9"/>
<rect x="242.85" y="879.75" width="12.3" height="14.1" fill="url(#h2)" stroke="#1f1b1c" stroke-width="1.9"/>
<rect x="340.1" y="879.75" width="12.3" height="14.1" fill="#92c94f" stroke="#1f1b1c" stroke-width="1.9"/>
<rect x="410.85" y="879.75" width="12.3" height="14.1" fill="#ffffff" stroke="#1f1b1c" stroke-width="1.9"/>
</g>
</svg>
</body>
</html>
